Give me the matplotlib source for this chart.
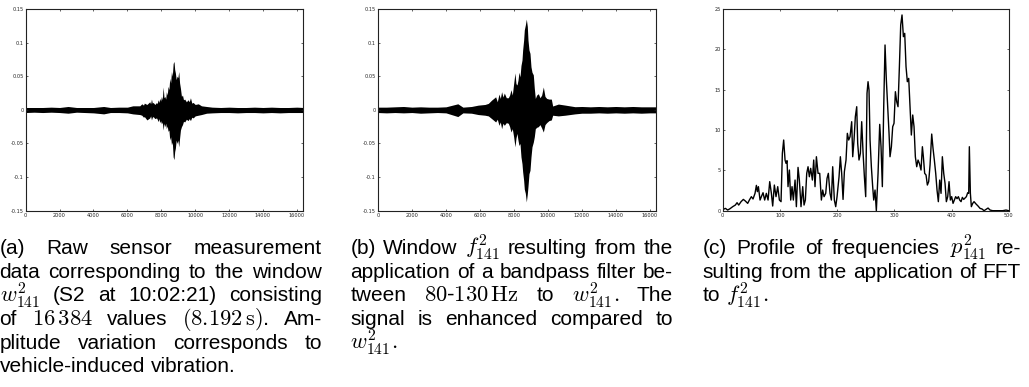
import matplotlib
matplotlib.use("Agg")
import matplotlib.pyplot as plt
from matplotlib.transforms import IdentityTransform

plt.rcParams['mathtext.fontset'] = 'cm'

W, H = 1029, 387

# (a) raw window w^2_141 : envelope of the signal (sample index, upper, lower)
a_pos = [0, 500, 1000, 1500, 2000, 2500, 3000, 3500, 4000, 4600,
         5000, 5500, 6000, 6320,
         6730, 6850, 6950, 7000, 7150, 7320, 7370, 7420, 7470, 7520,
         7620, 7720, 7760, 7810, 7860, 7910, 7960, 8010, 8060, 8110,
         8160, 8210, 8260, 8300, 8350, 8400, 8450, 8500, 8550, 8600,
         8650, 8700, 8750, 8790, 8830, 8880, 8930, 8980, 9030, 9080,
         9130, 9190, 9250, 9310, 9380, 9480, 9580, 9650, 9720, 9800,
         9880, 10000, 10180, 10370,
         10670, 11000, 11500, 12000, 12500, 13000, 13500, 14000, 14500, 15000,
         15500, 16000, 16384]
a_upper = [0.0035, 0.0035, 0.0035, 0.004, 0.0035, 0.005, 0.0035, 0.0035, 0.0035, 0.005,
           0.0035, 0.004, 0.004, 0.006,
           0.006, 0.009, 0.007, 0.010, 0.008, 0.012, 0.009, 0.016, 0.010, 0.011,
           0.008, 0.011, 0.009, 0.015, 0.011, 0.017, 0.013, 0.020, 0.015, 0.034,
           0.018, 0.020, 0.016, 0.027, 0.022, 0.035, 0.030, 0.047, 0.040, 0.057,
           0.050, 0.069, 0.072, 0.060, 0.055, 0.045, 0.050, 0.048, 0.057, 0.040,
           0.032, 0.020, 0.022, 0.015, 0.016, 0.012, 0.015, 0.012, 0.018, 0.010,
           0.011, 0.008, 0.009, 0.006,
           0.005, 0.004, 0.0035, 0.004, 0.0035, 0.0035, 0.004, 0.0035, 0.004, 0.0035,
           0.0035, 0.004, 0.0035]
a_lower = [-0.004, -0.0035, -0.004, -0.0035, -0.004, -0.005, -0.0035, -0.004, -0.0045, -0.006,
           -0.004, -0.004, -0.0045, -0.006,
           -0.007, -0.008, -0.011, -0.010, -0.015, -0.012, -0.009, -0.015, -0.011, -0.010,
           -0.013, -0.012, -0.014, -0.0175, -0.013, -0.019, -0.016, -0.021, -0.018, -0.030,
           -0.020, -0.025, -0.020, -0.028, -0.024, -0.032, -0.030, -0.045, -0.040, -0.052,
           -0.048, -0.070, -0.074, -0.062, -0.057, -0.045, -0.050, -0.045, -0.055, -0.042,
           -0.030, -0.025, -0.022, -0.017, -0.018, -0.014, -0.016, -0.013, -0.016, -0.011,
           -0.012, -0.009, -0.008, -0.007,
           -0.005, -0.0045, -0.004, -0.004, -0.0045, -0.004, -0.004, -0.0045, -0.004, -0.0045,
           -0.004, -0.004, -0.004]

# (b) bandpass filtered window f^2_141
b_pos = [0, 500, 1000, 1500, 2000, 2500, 3000, 3500, 4000, 4700,
         5000, 5500, 5900, 6300,
         6494, 6690, 6926, 7024, 7122, 7200, 7279, 7357, 7436, 7554,
         7672, 7750, 7829, 7907, 7986, 8064, 8123, 8182, 8241, 8300,
         8359, 8418, 8477, 8516, 8575, 8614, 8673, 8732, 8791, 8830,
         8889, 8948, 9007, 9066, 9144, 9203, 9262, 9341, 9439, 9537,
         9635, 9733, 9831, 9929, 10066, 10204, 10283, 10617, 11009, 11597,
         12000, 12500, 13000, 13500, 14000, 14500, 15000, 15500, 16000, 16384]
b_upper = [0.004, 0.004, 0.0045, 0.005, 0.004, 0.0045, 0.004, 0.004, 0.0045, 0.009,
           0.004, 0.005, 0.007, 0.008,
           0.0096, 0.0145, 0.0194, 0.012, 0.0235, 0.017, 0.027, 0.019, 0.025, 0.018,
           0.018, 0.022, 0.030, 0.022, 0.039, 0.055, 0.039, 0.037, 0.044, 0.056,
           0.049, 0.066, 0.074, 0.089, 0.104, 0.119, 0.126, 0.135, 0.124, 0.104,
           0.089, 0.084, 0.064, 0.056, 0.052, 0.032, 0.017, 0.022, 0.024, 0.018,
           0.022, 0.034, 0.020, 0.017, 0.016, 0.016, 0.0057, 0.0086, 0.0071, 0.0047,
           0.005, 0.0045, 0.005, 0.0045, 0.005, 0.0045, 0.005, 0.0045, 0.0045, 0.0045]
b_lower = [-0.004, -0.0045, -0.004, -0.0045, -0.004, -0.005, -0.0045, -0.004, -0.0045, -0.010,
           -0.0045, -0.005, -0.007, -0.008,
           -0.009, -0.013, -0.018, -0.014, -0.023, -0.018, -0.028, -0.020, -0.023, -0.019,
           -0.020, -0.025, -0.033, -0.028, -0.040, -0.055, -0.042, -0.035, -0.045, -0.053,
           -0.050, -0.070, -0.080, -0.092, -0.105, -0.118, -0.124, -0.137, -0.125, -0.114,
           -0.095, -0.090, -0.070, -0.055, -0.048, -0.040, -0.028, -0.026, -0.025, -0.022,
           -0.027, -0.033, -0.022, -0.019, -0.016, -0.015, -0.008, -0.009, -0.008, -0.006,
           -0.005, -0.005, -0.0045, -0.005, -0.0045, -0.005, -0.0045, -0.005, -0.0045, -0.0045]

# (c) frequency profile p^2_141
freqs = [1.2, 4.7, 8.7, 12.8, 17.5, 22.1, 25.1, 28.0, 32.1, 36.1,
         39.6, 43.7, 46.6, 50.1, 53.0, 56.5, 58.9, 60.6, 62.4, 65.3,
         67.6, 70.5, 73.4, 76.3, 79.3, 82.2, 85.1, 87.4, 90.3, 93.2,
         96.2, 99.1, 102.0, 104.3, 106.6, 109.0, 110.7, 112.5, 114.2, 116.6,
         118.9, 121.2, 123.5, 126.5, 128.8, 131.7, 134.0, 136.9, 139.9, 142.2,
         144.5, 146.9, 149.2, 151.5, 153.8, 156.8, 159.1, 161.4, 163.8, 166.7,
         169.6, 172.5, 174.8, 177.2, 180.1, 182.4, 184.7, 187.6, 190.0, 192.3,
         195.2, 197.6, 199.9, 203.4, 205.7, 208.0, 210.4, 212.7, 215.6, 217.9,
         220.3, 222.6, 225.5, 227.3, 229.6, 231.9, 234.3, 236.0, 238.3, 240.7,
         243.0, 245.3, 247.7, 250.0, 252.3, 254.1, 255.8, 257.6, 259.9, 262.2,
         264.0, 266.3, 268.6, 271.6, 274.5, 276.8, 279.1, 281.5, 283.8, 286.1,
         288.5, 290.8, 292.5, 294.9, 297.2, 299.5, 301.9, 304.2, 306.5, 308.9,
         311.2, 313.5, 315.9, 318.2, 320.5, 322.8, 325.2, 327.5, 329.8, 332.2,
         334.5, 336.8, 339.2, 341.5, 343.8, 346.7, 349.1, 350.8, 353.1, 355.5,
         357.8, 360.1, 362.5, 365.4, 367.7, 370.0, 372.4, 374.7, 377.0, 379.4,
         381.7, 384.0, 386.4, 388.7, 391.0, 393.4, 395.7, 398.0, 400.3, 402.7,
         405.0, 407.3, 409.7, 412.0, 414.3, 416.7, 419.0, 421.3, 423.7, 426.0,
         428.3, 430.1, 431.2, 433.0, 434.7, 437.1, 439.4, 442.9, 446.4, 449.9,
         453.4, 456.9, 460.4, 463.9, 467.4, 472.0, 480.8, 489.5, 495.3, 500.0]
amps = [0.17, 0.29, 0.08, 0.25, 0.50, 0.70, 0.99, 0.70, 1.12, 1.40,
        1.20, 0.91, 1.32, 1.74, 1.45, 2.15, 3.14, 2.36, 2.98, 1.32,
        1.74, 2.23, 1.32, 2.15, 1.32, 3.60, 2.15, 0.58, 3.18, 1.74,
        2.98, 1.32, 1.12, 7.11, 8.76, 6.28, 5.87, 6.20, 2.98, 5.04,
        1.32, 2.98, 1.32, 3.80, 0.50, 5.37, 3.80, 0.50, 2.98, 0.70,
        1.32, 4.63, 5.45, 4.21, 5.25, 3.80, 6.28, 2.98, 6.69, 4.63,
        4.63, 1.32, 2.56, 1.74, 2.15, 4.01, 4.63, 2.15, 1.32, 5.45,
        1.32, 0.50, 1.74, 4.21, 6.69, 4.63, 1.40, 4.83, 6.28, 9.59,
        8.76, 9.17, 11.03, 6.69, 8.76, 11.65, 12.89, 8.35, 6.28, 7.11,
        11.03, 7.31, 4.21, 1.74, 14.55, 15.99, 14.96, 8.76, 5.45, 2.98,
        1.32, 2.56, 0.0, 4.63, 10.70, 7.93, 2.98, 12.89, 20.54, 16.20,
        12.89, 9.59, 6.69, 7.93, 10.41, 10.83, 14.75, 13.51, 12.89, 17.85,
        23.02, 24.26, 21.57, 21.98, 17.85, 15.99, 16.40, 12.89, 9.38, 11.86,
        10.41, 6.69, 5.45, 6.28, 5.87, 5.04, 7.93, 6.69, 4.63, 4.42,
        3.18, 3.60, 5.66, 9.50, 7.73, 6.28, 4.63, 2.56, 1.12, 3.80,
        2.15, 6.69, 4.63, 3.39, 1.12, 1.74, 3.60, 1.32, 1.74, 0.91,
        1.32, 1.74, 1.49, 1.74, 1.32, 1.12, 1.65, 1.40, 1.57, 1.74,
        2.23, 2.15, 7.93, 2.15, 0.50, 0.91, 1.12, 0.83, 0.58, 0.29,
        0.21, 0.0, 0.17, 0.33, 0.08, 0.0, 0.0, 0.0, 0.08, 0.0]

sig_xticks = [0, 2000, 4000, 6000, 8000, 10000, 12000, 14000, 16000]
sig_yticks = [-0.15, -0.1, -0.05, 0, 0.05, 0.1, 0.15]
sig_ylabels = ['-0.15', '-0.1', '-0.05', '0', '0.05', '0.1', '0.15']
fft_xticks = [0, 100, 200, 300, 400, 500]
fft_yticks = [0, 5, 10, 15, 20, 25]

cap_a = [["(a)", "Raw", "sensor", "measurement"],
         ["data", "corresponding", "to", "the", "window"],
         [r"$w^2_{141}$", "(S2", "at", "10:02:21)", "consisting"],
         ["of", r"$16\,384$", "values", r"$(8.192\,\mathrm{s})$.", "Am-"],
         ["plitude", "variation", "corresponds", "to"],
         ["vehicle-induced", "vibration."]]
cap_b = [["(b)", "Window", r"$f^2_{141}$", "resulting", "from", "the"],
         ["application", "of", "a", "bandpass", "filter", "be-"],
         ["tween", r"$80$-$130\,\mathrm{Hz}$", "to", r"$w^2_{141}.$", "The"],
         ["signal", "is", "enhanced", "compared", "to"],
         [r"$w^2_{141}.$"]]
cap_c = [["(c)", "Profile", "of", "frequencies", r"$p^2_{141}$", "re-"],
         ["sulting", "from", "the", "application", "of", "FFT"],
         ["to", r"$f^2_{141}.$"]]

fig = plt.figure(figsize=(W / 100, H / 100), dpi=100)


def px_axes(l, r, t, b):
    return fig.add_axes([l / W, 1 - b / H, (r - l) / W, (b - t) / H])


def style(ax):
    ax.tick_params(direction='in', length=1.6, width=0.5, labelsize=3.6,
                   colors='#222222', top=True, right=True, pad=1.5)
    for s in ax.spines.values():
        s.set_linewidth(0.8)
        s.set_color('#222222')


ax1 = px_axes(25.7, 303.4, 9, 210.7)
ax1.fill_between(a_pos, a_lower, a_upper, color='black', lw=0)
ax2 = px_axes(378, 656.3, 9, 210.7)
ax2.fill_between(b_pos, b_lower, b_upper, color='black', lw=0)
for ax in (ax1, ax2):
    ax.set_xlim(0, 16384)
    ax.set_ylim(-0.15, 0.15)
    ax.set_xticks(sig_xticks)
    ax.set_yticks(sig_yticks)
    ax.set_yticklabels(sig_ylabels)
    style(ax)

ax3 = px_axes(722.7, 1008.7, 9, 210.7)
ax3.plot(freqs, amps, color='black', lw=1.0)
ax3.set_xlim(0, 500)
ax3.set_ylim(0, 25)
ax3.set_xticks(fft_xticks)
ax3.set_yticks(fft_yticks)
style(ax3)

# justified captions
FS = 15
r = fig.canvas.get_renderer()


def size_of(s):
    # computer modern math looks a bit larger than the sans text
    return FS * 1.08 if '$' in s else FS


def width(s):
    t = fig.text(0, 0, s, fontsize=size_of(s), family='Liberation Sans')
    w = t.get_window_extent(r).width
    t.remove()
    return w


space = width("a a") - width("aa")


def caption(lines, left, right, base0, step=23.7):
    for i, words in enumerate(lines):
        base = base0 + i * step
        ws = [width(w) for w in words]
        last = i == len(lines) - 1
        if last or len(words) == 1:
            gap = space
        else:
            gap = (right - left - sum(ws)) / (len(words) - 1)
        x = left
        for w, wd in zip(words, ws):
            fig.text(x, H - base, w, fontsize=size_of(w), family='Liberation Sans',
                     va='baseline', transform=IdentityTransform())
            x += wd + gap


caption(cap_a, -0.5, 322, 254)
caption(cap_b, 350.3, 673, 254)
caption(cap_c, 702.7, 1021, 254)

fig.savefig("out.png", dpi=100)
